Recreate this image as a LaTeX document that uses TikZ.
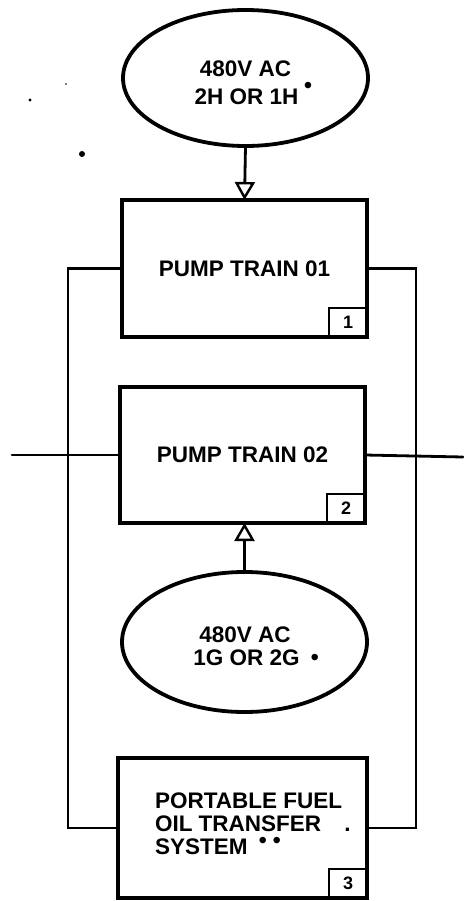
\documentclass[tikz,border=0pt]{standalone}
\usepackage{fontspec}
\setmainfont{Liberation Sans}
\usetikzlibrary{arrows.meta,shapes.geometric}
\newcommand\bigtxt{\fontsize{22.5}{23}\selectfont\bfseries}
\newcommand\tagtxt{\fontsize{18}{18}\selectfont\bfseries}
\newcommand\fnmark[2]{\rlap{\hspace{#1}\smash{\raisebox{#2}{\fontsize{24}{24}\selectfont\mdseries •}}}}
\begin{document}
\begin{tikzpicture}[x=1pt,y=-1pt,
  box/.style={draw, line width=3.6pt, inner sep=0pt, outer sep=0pt, font=\bigtxt},
  oval/.style={draw, ellipse, line width=3.8pt, inner sep=0pt, outer sep=0pt},
  tagbox/.style={draw, line width=2.6pt, inner sep=0pt, outer sep=0pt,
    minimum width=38pt, minimum height=29pt, font=\tagtxt, anchor=south east},
  txt/.style={inner sep=0pt, outer sep=0pt, font=\bigtxt},
  conn/.style={line width=2.8pt, line cap=round, line join=miter},
  flow/.style={conn, -{Triangle[open, length=18pt, width=20pt, line width=2.4pt]}}]
\useasboundingbox (0,0) rectangle (463,901);

% stray marks
\fill (30,100) circle (1.6pt);
\fill (66,84) circle (0.9pt);
\fill (82,154) circle (3pt);

% top source
\node[oval, minimum width=245pt, minimum height=136pt] (e1) at (245.5,78) {};
\node[txt, anchor=base] (e1a) at (245.5,77) {480V AC};
\node[txt, anchor=base] (e1b) at (246.5,105) {2H OR 1H\fnmark{5.4pt}{11pt}};

% boxes
\node[box, minimum width=245pt, minimum height=137pt] (b1) at (244.5,268.5) {PUMP TRAIN 01};
\node[tagbox] (t1) at (b1.south east) {1};

\node[box, minimum width=245pt, minimum height=136pt] (b2) at (242.5,455) {PUMP TRAIN 02};
\node[tagbox] (t2) at (b2.south east) {2};

\node[box, minimum width=249pt, minimum height=140pt] (b3) at (242.5,828) {};
\node[tagbox] (t3) at (b3.south east) {3};
\node[txt, anchor=north west, align=left] (b3t) at (155,793)
  {PORTABLE FUEL\\OIL TRANSFER\hspace{23pt}.\\SYSTEM\fnmark{11pt}{6pt}\fnmark{25pt}{6pt}};

% bottom source
\node[oval, minimum width=245pt, minimum height=140pt] (e2) at (244.5,642) {};
\node[txt, anchor=base] (e2a) at (245,642) {480V AC};
\node[txt, anchor=base] (e2b) at (246.5,665) {1G OR 2G\fnmark{11pt}{0pt}};

% arrows
\draw[flow] (e1.south) -- (b1.north);
\draw[flow] (e2.north) -- (e2.north |- b2.south);

% loop connectors
\draw[conn] (b1.west) -- ++(-54,0) |- (b3.west);
\draw[conn] (b1.east) -- ++(49,0) |- (b3.east);

% through line at train 02
\coordinate (la) at (12,455);
\coordinate (ra) at (463,457);
\draw[conn] (la) -- (b2.west);
\draw[conn] (b2.east) -- (ra);
\end{tikzpicture}
\end{document}
